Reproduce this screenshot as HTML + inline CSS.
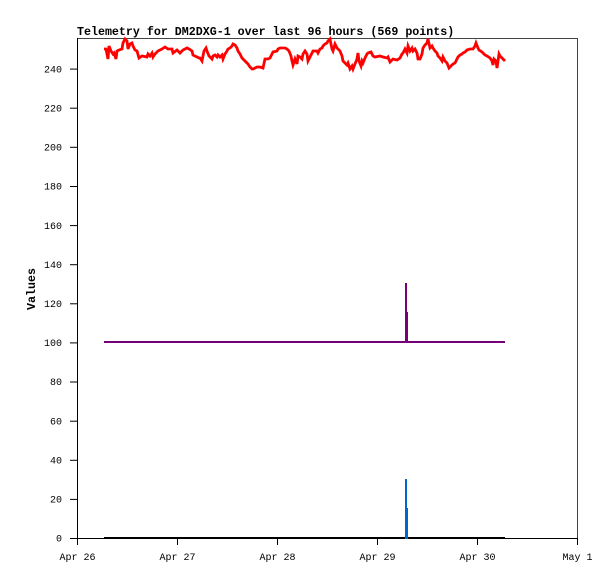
<!DOCTYPE html>
<html><head><meta charset="utf-8"><style>
html,body{margin:0;padding:0;background:#fff;}
svg{display:block;}
text{font-family:"Liberation Mono",monospace;}
</style></head><body>
<svg width="615" height="579" viewBox="0 0 615 579" xmlns="http://www.w3.org/2000/svg">
<rect width="615" height="579" fill="#fff"/>
<!-- frame -->
<line x1="77" y1="38.5" x2="577.5" y2="38.5" stroke="#444" stroke-width="1"/>
<line x1="577.5" y1="38" x2="577.5" y2="538" stroke="#444" stroke-width="1"/>
<line x1="77.5" y1="38" x2="77.5" y2="545" stroke="#000" stroke-width="1"/>
<line x1="77" y1="538.5" x2="578" y2="538.5" stroke="#000" stroke-width="1"/>
<!-- y ticks -->
<g stroke="#000" stroke-width="1">
<line x1="70" y1="538.5" x2="77" y2="538.5"/>
<line x1="70" y1="499.4" x2="77" y2="499.4"/>
<line x1="70" y1="460.3" x2="77" y2="460.3"/>
<line x1="70" y1="421.2" x2="77" y2="421.2"/>
<line x1="70" y1="382.0" x2="77" y2="382.0"/>
<line x1="70" y1="342.9" x2="77" y2="342.9"/>
<line x1="70" y1="303.8" x2="77" y2="303.8"/>
<line x1="70" y1="264.7" x2="77" y2="264.7"/>
<line x1="70" y1="225.6" x2="77" y2="225.6"/>
<line x1="70" y1="186.5" x2="77" y2="186.5"/>
<line x1="70" y1="147.3" x2="77" y2="147.3"/>
<line x1="70" y1="108.2" x2="77" y2="108.2"/>
<line x1="70" y1="69.1" x2="77" y2="69.1"/>
</g>
<g font-size="10" text-anchor="end" fill="#000">
<text x="62" y="541.7">0</text>
<text x="62" y="502.6">20</text>
<text x="62" y="463.5">40</text>
<text x="62" y="424.4">60</text>
<text x="62" y="385.2">80</text>
<text x="62" y="346.1">100</text>
<text x="62" y="307.0">120</text>
<text x="62" y="267.9">140</text>
<text x="62" y="228.8">160</text>
<text x="62" y="189.7">180</text>
<text x="62" y="150.5">200</text>
<text x="62" y="111.4">220</text>
<text x="62" y="72.3">240</text>
</g>
<!-- x ticks -->
<g stroke="#000" stroke-width="1">
<line x1="177.5" y1="538" x2="177.5" y2="545"/>
<line x1="277.5" y1="538" x2="277.5" y2="545"/>
<line x1="377.5" y1="538" x2="377.5" y2="545"/>
<line x1="477.5" y1="538" x2="477.5" y2="545"/>
<line x1="577.5" y1="538" x2="577.5" y2="545"/>
</g>
<g font-size="10" text-anchor="middle" fill="#000">
<text x="77.5" y="560">Apr 26</text>
<text x="177.5" y="560">Apr 27</text>
<text x="277.5" y="560">Apr 28</text>
<text x="377.5" y="560">Apr 29</text>
<text x="477.5" y="560">Apr 30</text>
<text x="577.5" y="560">May 1</text>
</g>
<!-- title -->
<text x="77" y="35" font-size="11.65" font-weight="bold" fill="#000">Telemetry for DM2DXG-1 over last 96 hours (569 points)</text>
<text transform="translate(35,289) rotate(-90)" font-size="11.65" font-weight="bold" text-anchor="middle" fill="#000">Values</text>
<!-- black series at 0 -->
<rect x="104" y="537" width="401" height="2" fill="#000"/>
<!-- blue spike -->
<rect x="405" y="479" width="2" height="60" fill="#0066cc"/>
<rect x="406" y="508" width="2" height="31" fill="#0066cc"/>
<!-- purple series -->
<rect x="104" y="341" width="401" height="2" fill="#770077"/>
<rect x="405" y="283" width="2" height="59" fill="#770077"/>
<rect x="406" y="312" width="2" height="30" fill="#770077"/>
<!-- red series -->
<polyline fill="none" stroke="#ff0000" stroke-width="2.8" stroke-linejoin="miter" points="
104,49 106,49 108,59 109,46 111,51 113,54 114,53 116,59 117,51 119,50 122,49 123,43 125,39 127,41 128,49 130,44 132,43 133,46 135,50 137,51 139,58 142,56 147,57 148,54 150,56 152,53 153,57 155,54 158,51 162,49 165,47 168,49 172,49 173,53 177,50 180,53 183,50 187,48 189,49 192,51 193,55 197,57 199,58
200,58 202,61 204,51 206,48 207,51 209,56 212,59 213,56 215,55 217,57 218,55 220,57 222,55 223,59 225,54 227,51 228,49 230,48 232,46 233,44 235,45 237,48 238,51 240,54 242,58 243,59 245,61 247,63 248,64 250,67 252,69 253,69 255,68 257,67 260,67 263,68 265,59 268,59 270,58 272,54 273,52 277,51 278,49 280,48 285,48 287,49 289,51 291,56 292,61 293,65 295,59 297,64 298,56
300,57 302,59 303,54 305,51 307,54 308,61 310,57 312,53 313,51 317,51 318,53 320,49 322,48 323,46 325,44 327,43 328,41 330,39 332,49 333,51 335,44 337,48 338,49 340,51 342,56 343,61 345,63 347,65 348,63 350,69 352,66 353,69 355,64 357,59 358,53 359,61 361,66 362,61 363,63 365,58 367,54 368,53 371,52 373,56 375,57 380,56 383,57 387,58 388,57 390,62 393,59 397,60
400,58 402,54 403,53 405,49 407,53 408,46 410,51 412,48 413,51 415,49 417,53 418,59 420,59 422,54 423,48 425,45 427,43 428,39 430,48 432,46 433,48 435,51 437,53 438,56 440,58 442,61 443,57 445,61 447,63 449,68 452,65 453,64 455,63 457,59 458,57 460,55 462,54 463,53 465,52 467,50 470,49 473,49 475,46 476,43 478,48 479,50 482,52 483,53 485,55 487,56 490,58 492,61 493,65 494,59 496,61 497,68 499,54 500,56 502,58 503,59 505,61"/>
</svg>
</body></html>
